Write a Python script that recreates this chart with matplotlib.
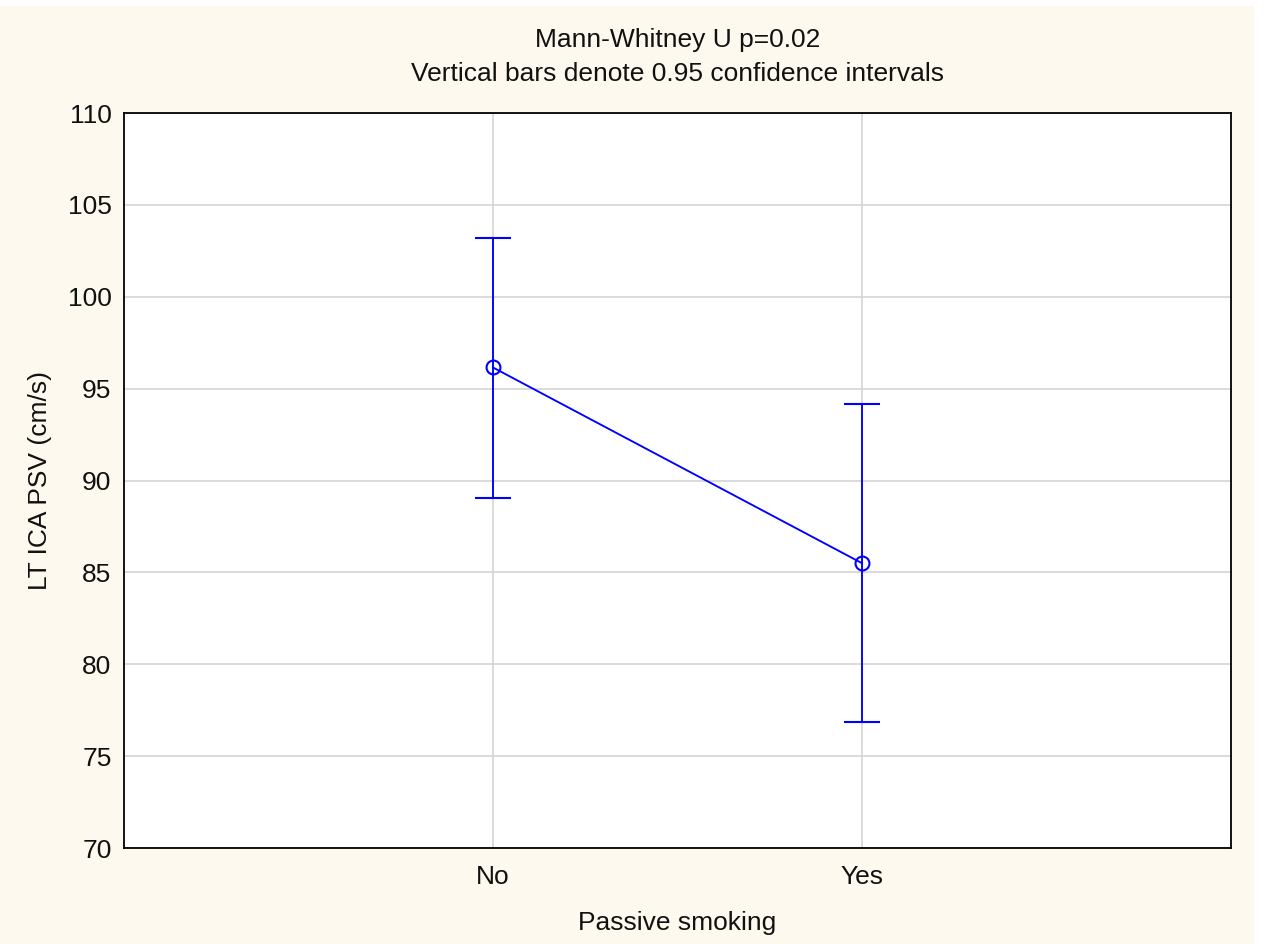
import matplotlib.pyplot as plt
import matplotlib.patches as mpatches

plt.rcParams['font.family'] = ['Liberation Sans', 'DejaVu Sans']

groups = ['No', 'Yes']
means = [96.15, 85.5]
ci_low = [89.05, 76.85]
ci_high = [103.2, 94.15]
yticks = [70, 75, 80, 85, 90, 95, 100, 105, 110]

x = list(range(len(groups)))
err_low = [m - l for m, l in zip(means, ci_low)]
err_high = [h - m for m, h in zip(means, ci_high)]

fig = plt.figure(figsize=(12.65, 9.44), dpi=100, facecolor='white')
# cream backdrop, stops short of the top and right edges like the original
fig.patches.append(mpatches.Rectangle((0, 0), 1254 / 1265, 1 - 6 / 944,
                                      transform=fig.transFigure, facecolor='#fef9ee',
                                      edgecolor='none', zorder=-10))
ax = fig.add_axes([124 / 1265, 1 - 848 / 944, (1231 - 124) / 1265, (848 - 113) / 944])
ax.set_facecolor('white')

ax.errorbar(x, means, yerr=[err_low, err_high], color='#0000ff', lw=1.35,
            capsize=13, capthick=1.35, marker='o', markersize=10,
            markerfacecolor='none', markeredgewidth=1.5, zorder=3)

ax.set_xlim(-1, 2)
ax.set_ylim(70, 110)
ax.set_xticks(x)
ax.set_xticklabels(groups)
ax.set_yticks(yticks)
ax.tick_params(length=0, labelsize=19, labelcolor='#111111')
ax.tick_params(axis='x', pad=12)
ax.tick_params(axis='y', pad=9)
ax.grid(True, color='#d4d4d4', lw=1.2)
ax.set_axisbelow(True)
for s in ax.spines.values():
    s.set_color('black')
    s.set_linewidth(1.3)

ax.set_xlabel('Passive smoking', fontsize=19, labelpad=16, color='#111111')
ax.set_ylabel('LT ICA PSV (cm/s)', fontsize=19, labelpad=11.5, color='#111111')
ax.set_title('Mann-Whitney U p=0.02\nVertical bars denote 0.95 confidence intervals',
             fontsize=19, pad=23, linespacing=1.55, color='#111111')

fig.savefig('out.png', dpi=100, facecolor=fig.get_facecolor())
